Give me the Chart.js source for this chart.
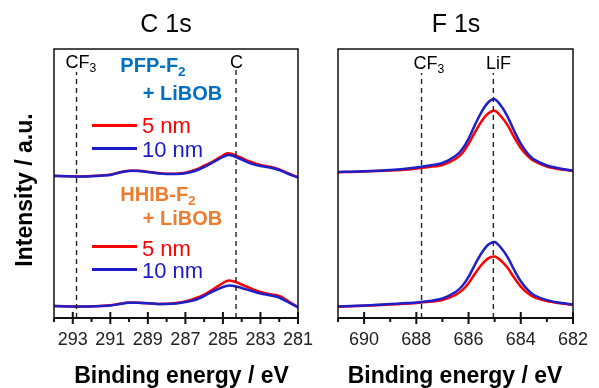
<!DOCTYPE html>
<html><head><meta charset="utf-8">
<script src="https://cdn.jsdelivr.net/npm/chart.js@4.4.1/dist/chart.umd.min.js"></script>
<style>
html,body{margin:0;padding:0;background:#fff;}
#wrap{position:relative;width:599px;height:388px;overflow:hidden;font-family:"Liberation Sans",Arial,sans-serif;color:#000;}
canvas{position:absolute;left:0;top:0;}
.t{position:absolute;line-height:1;white-space:nowrap;transform:translate(-50%,-50%);}
.l{position:absolute;line-height:1;white-space:nowrap;transform:translate(0,-50%);}
.sub{font-size:0.68em;position:relative;top:0.3em;}
.ln{position:absolute;height:3px;}
.b{font-weight:bold;}
</style></head><body>
<div id="wrap">
<canvas id="c1" width="599" height="388"></canvas>
<canvas id="c2" width="599" height="388"></canvas>

<div class="t" style="left:166px;top:23px;font-size:25px;">C 1s</div>
<div class="t" style="left:456px;top:23px;font-size:25px;">F 1s</div>

<div class="t" style="left:81px;top:62px;font-size:18px;">CF<span class="sub">3</span></div>
<div class="t" style="left:236.5px;top:62px;font-size:18px;">C</div>
<div class="t" style="left:429px;top:63px;font-size:18px;">CF<span class="sub">3</span></div>
<div class="t" style="left:498.5px;top:63px;font-size:18px;">LiF</div>

<div class="t b" style="left:153px;top:65px;font-size:20px;color:#0070c0;">PFP-F<span class="sub">2</span></div>
<div class="t b" style="left:182.5px;top:92.5px;font-size:20px;color:#0070c0;">+ LiBOB</div>
<div class="ln" style="left:92px;top:123.5px;width:45px;background:#ff0000;"></div>
<div class="l" style="left:142px;top:126px;font-size:22px;color:#ff0000;">5 nm</div>
<div class="ln" style="left:92px;top:147px;width:45px;background:#1a1ac8;"></div>
<div class="l" style="left:142px;top:149.5px;font-size:22px;color:#1a1ac8;">10 nm</div>

<div class="t b" style="left:158px;top:194px;font-size:20px;color:#ed7d31;">HHIB-F<span class="sub">2</span></div>
<div class="t b" style="left:182.5px;top:218.3px;font-size:20px;color:#ed7d31;">+ LiBOB</div>
<div class="ln" style="left:92px;top:244.5px;width:45px;background:#ff0000;"></div>
<div class="l" style="left:142px;top:249px;font-size:22px;color:#ff0000;">5 nm</div>
<div class="ln" style="left:92px;top:268px;width:45px;background:#1a1ac8;"></div>
<div class="l" style="left:142px;top:271px;font-size:22px;color:#1a1ac8;">10 nm</div>

<div class="t b" style="left:181.5px;top:375px;font-size:23px;">Binding energy / eV</div>
<div class="t b" style="left:455px;top:375px;font-size:23px;">Binding energy / eV</div>
<div class="t b" style="left:24px;top:190px;font-size:23px;transform:translate(-50%,-50%) rotate(-90deg);">Intensity / a.u.</div>
</div>
<script>
// ---- C 1s panel data (binding energy, eV; intensity, a.u.) ----
const cEnergies = [294,293.5,293,292.5,292,291.5,291,290.5,290,289.5,289,288.5,288,287.5,287,286.5,286,285.5,285,284.75,284.5,284.25,284,283.5,283,282.5,282,281.5,281];
const cPFP5nm  = [142.2,142,141.7,141.6,141.9,142.5,143.3,145.7,147.2,147.2,146.2,145,144.2,144.3,145.3,148,152.3,157,162.5,164.8,164,162,160,156,153,151.2,148.5,144.5,140.8];
const cPFP10nm = [142,141.8,141.5,141.5,141.8,142.3,143,145.5,147,147,146,144.8,144,144,144.7,147,151,156,161,163,162.5,160.5,158.5,154.5,152,150.5,148,144,140.5];
const cHHIB5nm = [12,11.8,11.5,11.5,11.7,12.1,12.7,14.2,15.4,15.3,14.8,14.1,14.2,15,16.5,19.5,23.5,29,35,37.3,37,35.5,33.5,29.5,26,23.7,22,16.5,11];
const cHHIB10nm= [12,11.7,11.4,11.4,11.6,12,12.5,14,15.2,15.2,14.7,14,14,14.5,16,18,22,27,31,32.3,32.2,31.2,30,27.2,24.5,22.7,20.5,15.5,10.7];
const cRefLines = [292.8, 284.3];   // CF3, C
const cRange = [281, 294];

// ---- F 1s panel data ----
const fEnergies = [691,690.5,690,689.5,689,688.5,688,687.5,687,686.5,686.25,686,685.75,685.5,685.25,685,684.75,684.5,684.25,684,683.75,683.5,683,682.5,682];
const fPFP5nm  = [145.7,146.1,146.5,147,147.5,148.2,149.5,151,153,159,164.5,174.2,186,196.8,204.5,207.2,201.5,192.6,180.7,170,162.3,157,151.5,148.7,147];
const fPFP10nm = [146,146.3,146.7,147.3,148,149,150.5,152.5,155,162,168.6,179.2,193.4,206.2,215.5,218.8,212,201.2,187,174.3,165,158.6,152.5,149.5,147.3];
const fHHIB5nm = [11.3,11.7,12.2,12.8,13.5,14.2,15,16.2,18,23.2,27.6,34.8,44.5,53.3,59.6,61.5,57.2,49.9,40.2,31.4,25.1,20.8,16.9,14.7,13];
const fHHIB10nm= [11.5,12,12.5,13.2,14,14.7,15.5,17,19.5,26,31.7,41.1,53.7,65,73.2,76,70,60.6,48,36.7,28.6,23,17.9,15.2,13.5];
const fRefLines = [687.8, 685.05];  // CF3, LiF
const fRange = [682, 691];

const RED = '#ff0000', BLUE = '#1f1fc8';
const FONT = '"Liberation Sans", Arial, sans-serif';

function series(xs, ys, color){
  return {data: xs.map((x,i)=>({x:x, y:ys[i]})), borderColor: color, borderWidth: 2.5,
          pointRadius: 0, tension: 0.3, fill: false};
}
function refLine(x, top){
  return {data:[{x:x,y:0},{x:x,y:top}], borderColor:'#222', borderWidth:1.4,
          borderDash:[5,4], pointRadius:0, tension:0, fill:false};
}

const frame = {
  id: 'frame',
  afterDatasetsDraw(chart, args, opts){
    const {ctx, chartArea:a} = chart;
    const x = chart.scales.x;
    ctx.save();
    ctx.strokeStyle = '#111';
    ctx.lineWidth = 1.5;
    ctx.strokeRect(a.left, a.top, a.right - a.left, a.bottom - a.top);
    ctx.lineWidth = 2;
    ctx.beginPath(); ctx.moveTo(a.left, a.bottom); ctx.lineTo(a.right, a.bottom); ctx.stroke();
    x.ticks.forEach(t => {
      const px = x.getPixelForValue(t.value);
      ctx.beginPath();
      if (opts.isMajor(t.value)) { ctx.moveTo(px, a.bottom - 6); ctx.lineTo(px, a.bottom + 6); }
      else { ctx.moveTo(px, a.bottom); ctx.lineTo(px, a.bottom + 4); }
      ctx.stroke();
    });
    ctx.restore();
  }
};

function makeChart(id, padL, padR, range, isMajor, datasets){
  return new Chart(document.getElementById(id), {
    type: 'line',
    data: {datasets: datasets},
    plugins: [frame],
    options: {
      responsive: false, animation: false, devicePixelRatio: 1,
      layout: {padding: {left: padL, right: padR, top: 49, bottom: 0}},
      plugins: {legend: {display: false}, tooltip: {enabled: false}, frame: {isMajor: isMajor}},
      scales: {
        x: {type: 'linear', min: range[0], max: range[1], reverse: true,
            grid: {display: false, drawTicks: false}, border: {display: false},
            ticks: {stepSize: 1, autoSkip: false, maxRotation: 0, padding: 11, color: '#222',
                    font: {size: 18, family: FONT},
                    callback: (v) => isMajor(v) ? String(v) : ''},
            afterFit: (s) => { s.height = 70; }},
        y: {display: false, min: 0, max: 269}
      }
    }
  });
}

makeChart('c1', 54, 599 - 298, cRange, v => Math.round(v) % 2 === 1, [
  refLine(cRefLines[0], 246), refLine(cRefLines[1], 248),
  series(cEnergies, cPFP10nm, BLUE), series(cEnergies, cPFP5nm, RED),
  series(cEnergies, cHHIB10nm, BLUE), series(cEnergies, cHHIB5nm, RED)
]);
makeChart('c2', 338, 599 - 581, fRange, v => Math.round(v) % 2 === 0, [
  refLine(fRefLines[0], 245), refLine(fRefLines[1], 245),
  series(fEnergies, fPFP10nm, BLUE), series(fEnergies, fPFP5nm, RED),
  series(fEnergies, fHHIB10nm, BLUE), series(fEnergies, fHHIB5nm, RED)
]);
</script>
</body></html>
